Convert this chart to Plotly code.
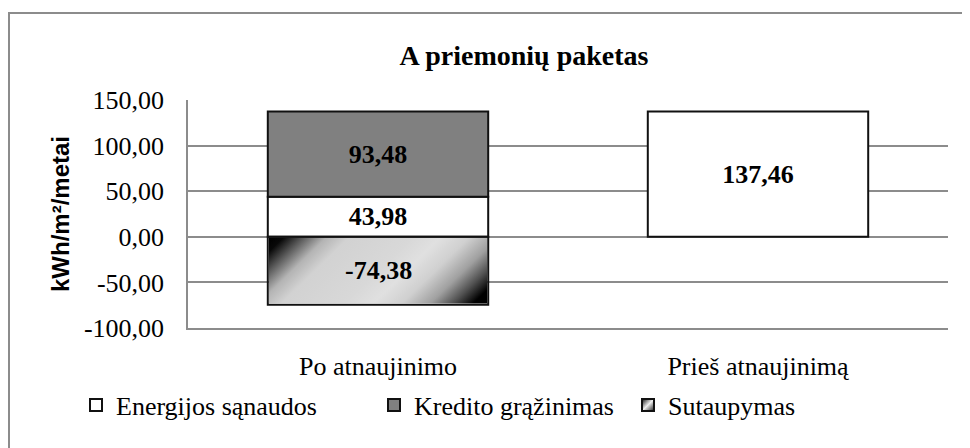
import urllib.parse
import plotly.graph_objects as go

categories = ["Po atnaujinimo", "Prieš atnaujinimą"]
series_names = ["Energijos sąnaudos", "Kredito grąžinimas", "Sutaupymas"]
energijos = [43.98, 137.46]
kredito = [93.48, None]
sutaupymas = [-74.38, None]
y_ticks = [-100, -50, 0, 50, 100, 150]

# the page body has an 8px margin, so the figure is sized to the remaining window
W, H = 962, 440
ML, MR, MT, MB = 180, 22, 92, 120
PW, PH = W - ML - MR, H - MT - MB
BAR_W = 0.58
SERIF = "Liberation Serif, Times New Roman, serif"
SANS = "Liberation Sans, Arial, sans-serif"

xs = list(range(len(categories)))


def fmt(v):
    return f"{v:.2f}".replace(".", ",")


def px2paper_x(px):
    return (px - ML) / PW


def px2paper_y(py):
    return (H - MB - py) / PH


def bar(name, vals, color, legend="legend", show_text=True):
    return go.Bar(
        name=name, x=xs, y=vals, width=BAR_W, legend=legend,
        marker=dict(color=color, line=dict(color="#111111", width=2)),
        text=[fmt(v) if (v is not None and show_text) else "" for v in vals],
        textposition="inside", insidetextanchor="middle",
        textfont=dict(family=SERIF, size=26, color="black", weight="bold"),
        constraintext="none", cliponaxis=False, hoverinfo="skip",
    )


fig = go.Figure()
fig.add_trace(bar(series_names[0], energijos, "#ffffff"))
fig.add_trace(bar(series_names[1], kredito, "#808080"))
fig.add_trace(bar(series_names[2], sutaupymas, "rgba(0,0,0,0)", legend="legend2", show_text=False))


def gradient_svg(w, h, stops):
    d = (w + h) / 2.0
    s = "".join(f"<stop offset='{o}' stop-color='{c}'/>" for o, c in stops)
    svg = (
        f"<svg xmlns='http://www.w3.org/2000/svg' viewBox='0 0 {w} {h}' width='{w}' height='{h}' preserveAspectRatio='none'>"
        f"<defs><linearGradient id='g' gradientUnits='userSpaceOnUse' x1='0' y1='0' x2='{d}' y2='{d}'>{s}"
        f"</linearGradient></defs><rect width='{w}' height='{h}' fill='url(#g)'/></svg>"
    )
    return "data:image/svg+xml;charset=utf-8," + urllib.parse.quote(svg)


bar_stops = [
    (0, "#000"), (0.05, "#080808"), (0.12, "#5a5a5a"), (0.2, "#b4b4b4"),
    (0.28, "#d2d2d2"), (0.5, "#d8d8d8"), (0.6, "#e0e0e0"), (0.7, "#d0d0d0"),
    (0.8, "#a0a0a0"), (0.88, "#505050"), (0.95, "#000"), (1, "#000"),
]
icon_stops = [(0, "#202020"), (0.3, "#a0a0a0"), (0.5, "#f0f0f0"), (0.7, "#a0a0a0"), (1, "#303030")]

px_x = 2.0 / PW           # one pixel in x data units (x range width 2)
px_y = 250.0 / PH         # one pixel in y data units
images = []
annotations = []
for i, v in enumerate(sutaupymas):
    if v is None:
        continue
    images.append(dict(
        source=gradient_svg(220, 68, bar_stops), xref="x", yref="y",
        x=xs[i] - BAR_W / 2 + px_x, y=0 - px_y,
        sizex=BAR_W - 2 * px_x, sizey=abs(v) - 2 * px_y,
        xanchor="left", yanchor="top", sizing="stretch", layer="above",
    ))
    annotations.append(dict(
        x=xs[i], y=v / 2, xref="x", yref="y", text=fmt(v), showarrow=False,
        font=dict(family=SERIF, size=26, color="black", weight="bold"),
    ))

# gradient swatch for the legend icon of the savings series
LEG1_X, LEG2_X, LEG_Y = 68, 620, 397
images.append(dict(
    source=gradient_svg(11, 11, icon_stops), xref="paper", yref="paper",
    x=px2paper_x(LEG2_X + 20), y=px2paper_y(LEG_Y),
    sizex=11 / PW, sizey=11 / PH, xanchor="center", yanchor="middle",
    sizing="stretch", layer="above",
))

annotations.append(dict(
    x=px2paper_x(52), y=0.5, xref="paper", yref="paper", xanchor="center", yanchor="middle",
    text="kWh/m²/metai", textangle=-90, showarrow=False,
    font=dict(family=SANS, size=24, color="black", weight="bold"),
))

# outer chart border (top and left visible, right/bottom beyond the window)
bx0, by0, bx1, by1 = 1, 5, 980, 470
shapes = [dict(
    type="rect", xref="paper", yref="paper",
    x0=px2paper_x(bx0), x1=px2paper_x(bx1), y0=px2paper_y(by1), y1=px2paper_y(by0),
    line=dict(color="#8c8c8c", width=2), fillcolor="rgba(0,0,0,0)", layer="below",
)]

legend_font = dict(family=SERIF, size=26, color="black")
fig.update_layout(
    width=W, height=H, margin=dict(l=ML, r=MR, t=MT, b=MB),
    barmode="relative", separators=",.",
    paper_bgcolor="white", plot_bgcolor="white",
    title=dict(text="<b>A priemonių paketas</b>", x=516 / W, y=1 - 47 / H,
               xanchor="center", yanchor="middle",
               font=dict(family=SERIF, size=28, color="black")),
    font=dict(family=SERIF, size=26, color="black"),
    xaxis=dict(range=[-0.5, 1.5], tickvals=xs, ticktext=categories,
               showgrid=False, zeroline=False, showline=True,
               linecolor="#8c8c8c", linewidth=1.5, ticks="",
               ticklabelstandoff=14, tickfont=dict(family=SERIF, size=26, color="black")),
    yaxis=dict(range=[-100, 150], tickvals=y_ticks, ticktext=[fmt(t) for t in y_ticks],
               showgrid=True, gridcolor="#8c8c8c", gridwidth=1.5,
               zeroline=False, showline=True, linecolor="#8c8c8c", linewidth=1.5,
               ticks="", ticklabelstandoff=17,
               tickfont=dict(family=SERIF, size=26, color="black")),
    legend=dict(orientation="h", x=px2paper_x(LEG1_X), y=px2paper_y(LEG_Y),
                xanchor="left", yanchor="middle", entrywidth=253,
                font=legend_font, bgcolor="rgba(0,0,0,0)"),
    legend2=dict(orientation="h", x=px2paper_x(LEG2_X), y=px2paper_y(LEG_Y),
                 xanchor="left", yanchor="middle",
                 font=legend_font, bgcolor="rgba(0,0,0,0)"),
    images=images, annotations=annotations, shapes=shapes,
    showlegend=True,
)

fig.write_html("out.html")
